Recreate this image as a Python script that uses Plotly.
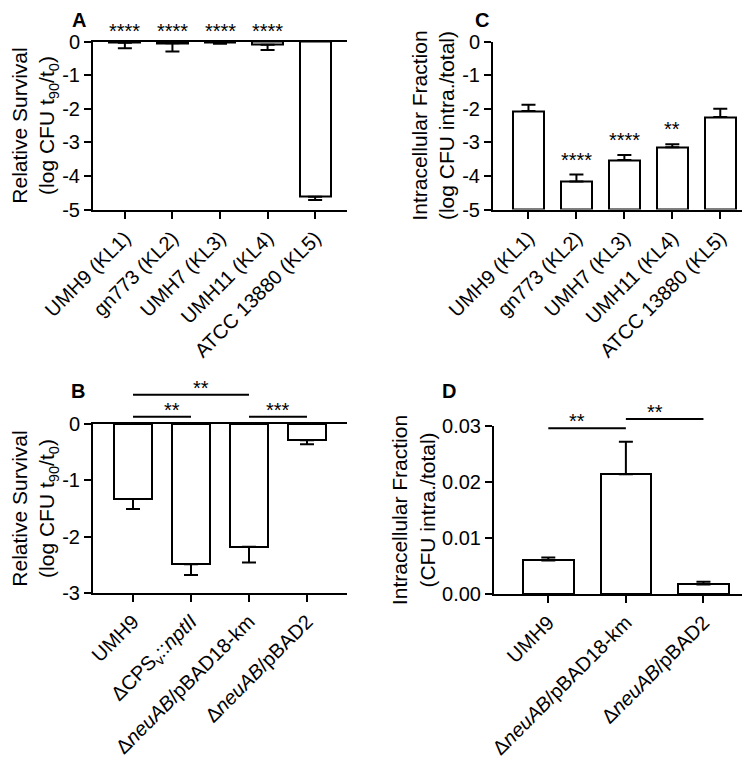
import plotly.graph_objects as go
import numpy as np

# ---------------- data ----------------
strains_kl = ["UMH9 (KL1)", "gn773 (KL2)", "UMH7 (KL3)", "UMH11 (KL4)", "ATCC 13880 (KL5)"]
a_mean = [-0.04, -0.05, -0.04, -0.10, -4.62]
a_err = [0.16, 0.25, 0.03, 0.15, 0.10]
a_sig = ["****", "****", "****", "****", ""]

b_strains = ["UMH9", "ΔCPS<sub>v</sub>::<i>nptII</i>", "Δ<i>neuAB</i>/pBAD18-km", "Δ<i>neuAB</i>/pBAD2"]
b_mean = [-1.33, -2.49, -2.18, -0.29]
b_err = [0.18, 0.19, 0.28, 0.07]
b_comp = [(0, 2, "**", 0.52), (0, 1, "**", 0.13), (2, 3, "***", 0.13)]

c_mean = [-2.07, -4.17, -3.53, -3.15, -2.25]
c_err = [0.19, 0.21, 0.15, 0.09, 0.25]
c_sig = ["", "****", "****", "**", ""]

d_strains = ["UMH9", "Δ<i>neuAB</i>/pBAD18-km", "Δ<i>neuAB</i>/pBAD2"]
d_mean = [0.0060, 0.0214, 0.0017]
d_err = [0.0005, 0.0058, 0.0005]
d_comp = [(0, 1, "**", 0.0296), (1, 2, "**", 0.03125)]

log_ticks_a = [0, -1, -2, -3, -4, -5]
log_ticks_b = [0, -1, -2, -3]
frac_ticks = [0.0, 0.01, 0.02, 0.03]

FONT = "Liberation Sans, Arial, sans-serif"
# page body has an 8px default margin; size the figure so it fills the 750x757 window
OFF = 8
W, H = 750 - OFF, 757 - OFF


def fx(p):
    return (p - OFF) / W


def fy(p):
    return 1 - (p - OFF) / H


# panel geometry (window pixels -> paper fractions)
dom = {
    "A": dict(x=[fx(93), fx(347)], y=[fy(209.5), fy(41.5)], xr=[-0.67, 4.67], yr=[-5, 0]),
    "B": dict(x=[fx(93), fx(347)], y=[fy(593), fy(424)], xr=[-0.69, 3.69], yr=[-3, 0]),
    "C": dict(x=[fx(493), 1.0], y=[fy(209.5), fy(41.5)], xr=[-0.74, 4.62], yr=[-5, 0]),
    "D": dict(x=[fx(494), 1.0], y=[fy(594), fy(426)], xr=[-0.7, 2.6], yr=[0, 0.03]),
}
axmap = {"A": ("x", "y"), "B": ("x2", "y2"), "C": ("x3", "y3"), "D": ("x4", "y4")}


def py(panel, v):
    d = dom[panel]
    return d["y"][0] + (v - d["yr"][0]) / (d["yr"][1] - d["yr"][0]) * (d["y"][1] - d["y"][0])


def px(panel, v):
    d = dom[panel]
    return d["x"][0] + (v - d["xr"][0]) / (d["xr"][1] - d["xr"][0]) * (d["x"][1] - d["x"][0])


fig = go.Figure()

BAR = dict(color="white", line=dict(color="black", width=2))
BW = 0.65


def add_bars(panel, means, errs, up, base=None):
    xa, ya = axmap[panel]
    xs = list(range(len(means)))
    means = np.array(means)
    errs = np.array(errs)
    yv = means - base if base is not None else means
    if up:
        ey = dict(type="data", symmetric=False, array=errs, arrayminus=np.zeros(len(errs)),
                  color="black", thickness=2, width=7)
    else:
        ey = dict(type="data", symmetric=False, array=np.zeros(len(errs)), arrayminus=errs,
                  color="black", thickness=2, width=7)
    fig.add_trace(go.Bar(x=xs, y=yv, base=base, width=BW, marker=BAR, error_y=ey,
                         xaxis=xa, yaxis=ya, showlegend=False))


add_bars("A", a_mean, a_err, up=False)
add_bars("B", b_mean, b_err, up=False)
add_bars("C", c_mean, c_err, up=True, base=-5)
add_bars("D", d_mean, d_err, up=True)

ann = []
shapes = []
STAR = dict(size=20, family=FONT, color="black")

# A stars
for i, s in enumerate(a_sig):
    if s:
        ann.append(dict(x=i, xref="x", y=py("A", 0), yref="paper", text=s, showarrow=False,
                        yanchor="bottom", yshift=-3, font=STAR))
# C stars
for i, s in enumerate(c_sig):
    if s:
        ann.append(dict(x=i, xref="x3", y=c_mean[i] + c_err[i], yref="y3", text=s, showarrow=False,
                        yanchor="bottom", yshift=2, font=STAR))

# comparison brackets
for panel, comps in (("B", b_comp), ("D", d_comp)):
    for (i, j, s, lev) in comps:
        yp = py(panel, lev)
        shapes.append(dict(type="line", xref="paper", yref="paper", x0=px(panel, i), x1=px(panel, j),
                           y0=yp, y1=yp, line=dict(color="black", width=2)))
        ann.append(dict(x=(px(panel, i) + px(panel, j)) / 2, xref="paper", y=yp, yref="paper", text=s,
                        showarrow=False, yanchor="bottom", yshift=-6, font=STAR))

# panel letters
LETF = dict(size=20, family=FONT, color="black")
for lab, xx in {"A": 79, "C": 482}.items():
    ann.append(dict(x=fx(xx), y=1.0, xref="paper", yref="paper", text=f"<b>{lab}</b>",
                    showarrow=False, xanchor="center", yanchor="top", yshift=1, font=LETF))
for lab, (xx, yy) in {"B": (78, 391), "D": (449, 391)}.items():
    ann.append(dict(x=fx(xx), y=fy(yy), xref="paper", yref="paper", text=f"<b>{lab}</b>",
                    showarrow=False, xanchor="center", yanchor="middle", font=LETF))

TICKF = dict(size=20, family=FONT, color="black")
XTICKF = dict(size=20, family=FONT, color="black")
TITF = dict(size=21, family=FONT, color="black")


def xaxis_cfg(panel, labels, mirror):
    d = dom[panel]
    return dict(domain=d["x"], range=d["xr"], tickvals=list(range(len(labels))), ticktext=labels,
                tickangle=-45, showline=True, linecolor="black", linewidth=2, mirror=mirror,
                ticks="outside", ticklen=7, tickwidth=2, tickcolor="black", tickfont=XTICKF,
                showgrid=False, zeroline=False, fixedrange=True, automargin=False)


def yaxis_cfg(panel, title, tickvals, ticktext, standoff):
    d = dom[panel]
    return dict(domain=d["y"], range=d["yr"], tickvals=tickvals, ticktext=ticktext, showline=True,
                linecolor="black", linewidth=2, ticks="outside", ticklen=7, tickwidth=2,
                tickcolor="black", tickfont=TICKF, showgrid=False, zeroline=False,
                title=dict(text=title, font=TITF, standoff=standoff), fixedrange=True,
                automargin=False)


def int_labels(vals):
    return [str(v) for v in vals]


ttl_rs = "Relative Survival<br>(log CFU t<sub>90</sub>/t<sub>0</sub>)"
fig.update_layout(
    width=W, height=H, margin=dict(l=0, r=0, t=0, b=0, autoexpand=False),
    paper_bgcolor="white", plot_bgcolor="white", bargap=0,
    font=dict(family=FONT, color="black"),
    xaxis=dict(**xaxis_cfg("A", strains_kl, True), anchor="y"),
    yaxis=dict(**yaxis_cfg("A", ttl_rs, log_ticks_a, int_labels(log_ticks_a), 41), anchor="x"),
    xaxis2=dict(**xaxis_cfg("B", b_strains, True), anchor="y2"),
    yaxis2=dict(**yaxis_cfg("B", ttl_rs, log_ticks_b, int_labels(log_ticks_b), 41), anchor="x2"),
    xaxis3=dict(**xaxis_cfg("C", strains_kl, False), anchor="y3"),
    yaxis3=dict(**yaxis_cfg("C", "Intracellular Fraction<br>(log CFU intra./total)", log_ticks_a,
                            int_labels(log_ticks_a), 2), anchor="x3"),
    xaxis4=dict(**xaxis_cfg("D", d_strains, False), anchor="y4"),
    yaxis4=dict(**yaxis_cfg("D", "Intracellular Fraction<br>(CFU intra./total)", frac_ticks,
                            [f"{v:.2f}" for v in frac_ticks], 1), anchor="x4"),
    annotations=ann, shapes=shapes,
)

fig.write_html("out.html")
